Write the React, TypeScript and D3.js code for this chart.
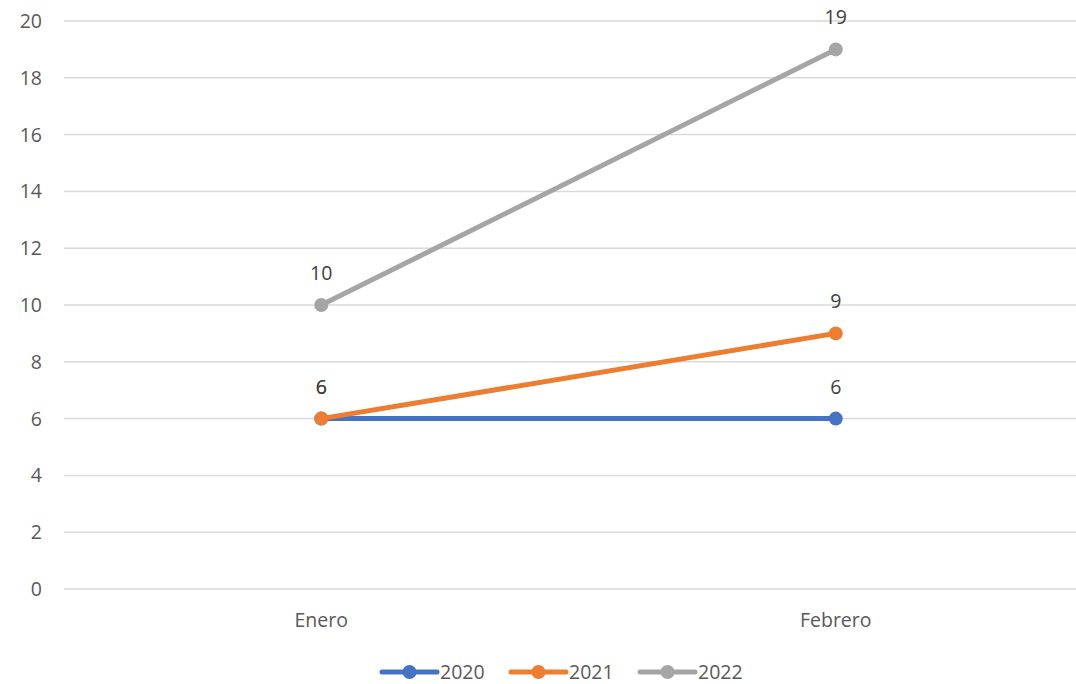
import React from "react";
import * as d3 from "d3";

const categories = ["Enero", "Febrero"];
const seriesNames = ["2020", "2021", "2022"];
const values2020 = [6, 6];
const values2021 = [6, 9];
const values2022 = [10, 19];
const colors = ["#4472C4", "#ED7D31", "#A5A5A5"];
const yTicks = [0, 2, 4, 6, 8, 10, 12, 14, 16, 18, 20];

const W = 1076;
const H = 684;

export default function App() {
  const x = d3.scaleBand<string>().domain(categories).range([64, 1093]);
  const y = d3.scaleLinear().domain([0, 20]).range([589, 21]);
  const cx = (c: string) => (x(c) as number) + x.bandwidth() / 2;
  const series = [values2020, values2021, values2022];
  const line = d3
    .line<number>()
    .x((_, i) => cx(categories[i]))
    .y((d) => y(d));
  const font = "'Open Sans', 'Liberation Sans', sans-serif";
  const legendX = [382, 511, 640];
  const fs = 19.5;
  return (
    <svg
      width={W}
      height={H}
      style={{ position: "absolute", left: 0, top: 0, background: "#fff" }}
      fontFamily={font}
    >
      {yTicks.map((t) => (
        <g key={t}>
          <line x1={64} x2={W} y1={y(t)} y2={y(t)} stroke="#D9D9D9" strokeWidth={1.5} />
          <text x={42} y={y(t)} dy="0.36em" textAnchor="end" fontSize={fs} fill="#595959">
            {t}
          </text>
        </g>
      ))}
      {categories.map((c) => (
        <text key={c} x={cx(c)} y={620} dy="0.36em" textAnchor="middle" fontSize={fs} fill="#595959">
          {c}
        </text>
      ))}
      {series.map((s, si) => (
        <g key={si}>
          <path d={line(s) || ""} fill="none" stroke={colors[si]} strokeWidth={5} strokeLinecap="round" />
          {s.map((v, i) => (
            <circle key={i} cx={cx(categories[i])} cy={y(v)} r={7} fill={colors[si]} />
          ))}
        </g>
      ))}
      {series.map((s, si) =>
        s.map((v, i) => (
          <text
            key={si + "-" + i}
            x={cx(categories[i])}
            y={y(v) - 32}
            dy="0.36em"
            textAnchor="middle"
            fontSize={fs}
            fill="#404040"
          >
            {v}
          </text>
        ))
      )}
      {seriesNames.map((n, i) => (
        <g key={n}>
          <line
            x1={legendX[i]}
            x2={legendX[i] + 55}
            y1={672}
            y2={672}
            stroke={colors[i]}
            strokeWidth={5}
            strokeLinecap="round"
          />
          <circle cx={legendX[i] + 27.5} cy={672} r={7} fill={colors[i]} />
          <text x={legendX[i] + 58} y={672} dy="0.36em" fontSize={fs} fill="#595959">
            {n}
          </text>
        </g>
      ))}
    </svg>
  );
}
